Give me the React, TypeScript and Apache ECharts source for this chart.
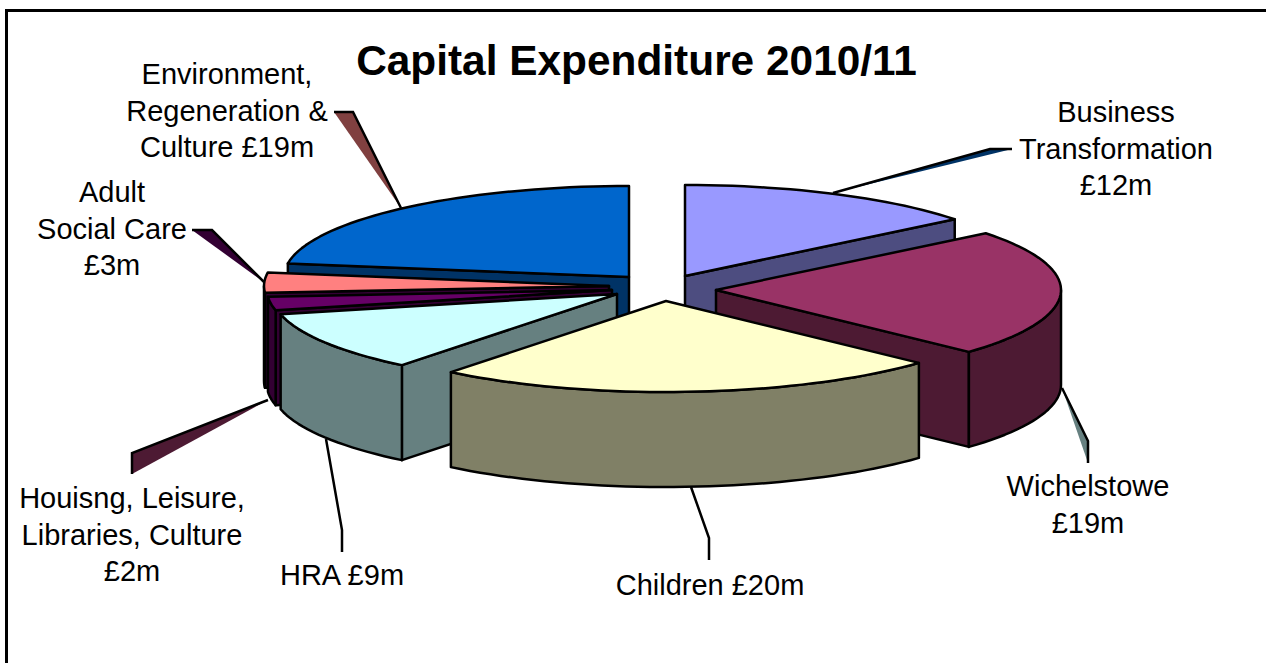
import React, { useEffect, useRef } from "react";
import * as echarts from "echarts";

const CHART_TITLE = "Capital Expenditure 2010/11";

// Slices in clockwise pie order, starting from twelve o'clock.
const sliceNames = [
  "Business Transformation",
  "Wichelstowe",
  "Children",
  "HRA",
  "Housing, Leisure, Libraries, Culture",
  "Adult Social Care",
  "Environment, Regeneration & Culture",
];
const sliceValues = [12, 19, 20, 9, 2, 3, 19];
const sliceLabels = [
  "Business\nTransformation\n£12m",
  "Wichelstowe\n£19m",
  "Children £20m",
  "HRA £9m",
  "Houisng, Leisure,\nLibraries, Culture\n£2m",
  "Adult\nSocial Care\n£3m",
  "Environment,\nRegeneration &\nCulture £19m",
];

// Look of the pie
const topColors = ["#9999FF", "#993366", "#FFFFCC", "#CCFFFF", "#660066", "#FF8080", "#0066CC"];
const sideColors = ["#4D4D80", "#4D1A33", "#808066", "#668080", "#330033", "#330033", "#003366"];
const leaderColors = ["#003366", "#668080", "none", "none", "#4D1A33", "#330033", "#804040"];

const PIE_CENTER = [650, 285];
const RADIUS_X = 345;
const RADIUS_Y = 91;
const DEPTH = 95;
const explodeOffsets = [
  [35, -9],
  [66, 5],
  [16, 16],
  [-33, 9],
  [-38, 5],
  [-41, 1],
  [-21, -8],
];
const paintOrder = [0, 6, 5, 4, 3, 1, 2];

const labelAnchors = [
  [1116, 148.5],
  [1088, 504.5],
  [710, 584.5],
  [342, 574.5],
  [132, 534.5],
  [112, 228.5],
  [227, 110.5],
];
const leaderPaths = [
  [[833, 193], [990, 149], [1012, 149]],
  [[1062, 388], [1088, 441], [1088, 463]],
  [[691, 487], [709, 538], [709, 560]],
  [[326, 439], [342, 530], [342, 552]],
  [[268, 400], [132, 453], [132, 474]],
  [[265, 283], [212, 230], [192, 230]],
  [[401, 208], [353, 112], [334, 112]],
];

const TOTAL = sliceValues.reduce((a, b) => a + b, 0);
const sweepStart = (i: number) =>
  (sliceValues.slice(0, i).reduce((a, b) => a + b, 0) / TOTAL) * Math.PI * 2;

const rimPoint = (c: number[], angle: number, drop = 0) => [
  c[0] + RADIUS_X * Math.sin(angle),
  c[1] - RADIUS_Y * Math.cos(angle) + drop,
];

const arcPoints = (c: number[], from: number, to: number, drop = 0) => {
  const steps = Math.max(2, Math.ceil(((to - from) / Math.PI) * 90));
  const pts: number[][] = [];
  for (let k = 0; k <= steps; k++) pts.push(rimPoint(c, from + ((to - from) * k) / steps, drop));
  return pts;
};

const faceStyle = (fill: string) => ({ fill, stroke: "#000", lineWidth: 2.5, lineJoin: "round" });
const polygon = (points: number[][], fill: string) => ({
  type: "polygon",
  shape: { points },
  style: faceStyle(fill),
});

function renderSlice(params: any) {
  const i = paintOrder[params.dataIndex];
  const a0 = sweepStart(i);
  const a1 = sweepStart(i + 1);
  const c = [PIE_CENTER[0] + explodeOffsets[i][0], PIE_CENTER[1] + explodeOffsets[i][1]];
  const lowered = [c[0], c[1] + DEPTH];
  const children: any[] = [];
  const side = sideColors[i];

  // Cut faces that turn towards the viewer
  if (Math.sin(a0) < 0) {
    const p = rimPoint(c, a0);
    children.push(polygon([c, p, rimPoint(c, a0, DEPTH), lowered], side));
  }
  if (Math.sin(a1) > 1e-6) {
    const p = rimPoint(c, a1);
    children.push(polygon([c, p, rimPoint(c, a1, DEPTH), lowered], side));
  }
  // Front part of the outer wall
  const f0 = Math.max(a0, Math.PI / 2);
  const f1 = Math.min(a1, (Math.PI * 3) / 2);
  if (f1 > f0) {
    children.push(
      polygon([...arcPoints(c, f0, f1), ...arcPoints(c, f0, f1, DEPTH).reverse()], side),
    );
  }
  // Top surface
  children.push(polygon([c, ...arcPoints(c, a0, a1)], topColors[i]));
  return { type: "group", children };
}

function renderLeader(params: any) {
  const i = params.dataIndex;
  const path = leaderPaths[i];
  return {
    type: "group",
    children: [
      { type: "polygon", shape: { points: path }, style: { fill: leaderColors[i], stroke: "none" } },
      {
        type: "polyline",
        shape: { points: path },
        style: { fill: "none", stroke: "#000", lineWidth: 2.5 },
      },
      {
        type: "text",
        style: {
          text: sliceLabels[i],
          x: labelAnchors[i][0],
          y: labelAnchors[i][1],
          align: "center",
          verticalAlign: "middle",
          fontFamily: "Liberation Sans",
          fontSize: 29,
          lineHeight: 36.5,
          fill: "#000",
        },
      },
    ],
  };
}

export default function App() {
  const ref = useRef<HTMLDivElement>(null);
  useEffect(() => {
    document.body.style.margin = "0";
    const chart = echarts.init(ref.current!, null, { renderer: "svg" });
    chart.setOption({
      animation: false,
      backgroundColor: "#fff",
      title: {
        text: CHART_TITLE,
        left: 631.5,
        top: 34,
        textAlign: "center",
        textStyle: { fontFamily: "Liberation Sans", fontWeight: "bold", fontSize: 42.4, color: "#000" },
      },
      graphic: [
        {
          type: "polyline",
          shape: { points: [[6.5, 663], [6.5, 10.5], [1266, 10.5]] },
          style: { fill: "none", stroke: "#000", lineWidth: 3 },
        },
      ],
      series: [
        {
          type: "custom",
          coordinateSystem: "none",
          silent: true,
          z: 1,
          renderItem: renderLeader,
          data: sliceValues.map((v, i) => ({ name: sliceNames[i], value: [i, v] })),
        },
        {
          type: "custom",
          coordinateSystem: "none",
          silent: true,
          z: 2,
          renderItem: renderSlice,
          data: paintOrder.map((i) => ({ name: sliceNames[i], value: [i, sliceValues[i]] })),
        },
      ],
    });
    return () => chart.dispose();
  }, []);
  return <div ref={ref} style={{ position: "absolute", left: 0, top: 0, width: 1266, height: 663 }} />;
}
